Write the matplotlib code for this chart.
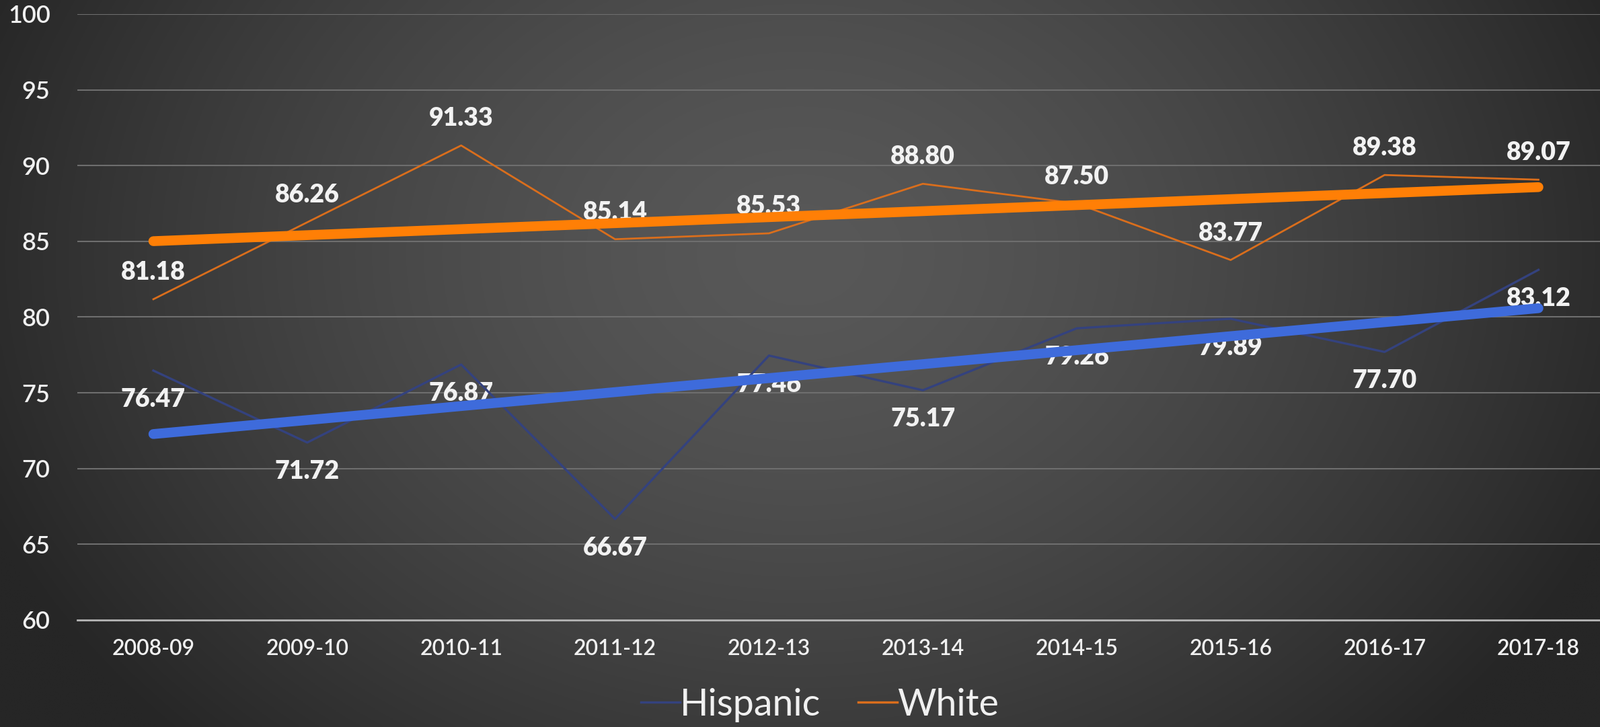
import matplotlib
matplotlib.use("Agg")
import matplotlib.pyplot as plt
import numpy as np

years = ["2008-09", "2009-10", "2010-11", "2011-12", "2012-13",
         "2013-14", "2014-15", "2015-16", "2016-17", "2017-18"]
hispanic = [76.47, 71.72, 76.87, 66.67, 77.46, 75.17, 79.26, 79.89, 77.70, 83.12]
white = [81.18, 86.26, 91.33, 85.14, 85.53, 88.80, 87.50, 83.77, 89.38, 89.07]
y_ticks = [60, 65, 70, 75, 80, 85, 90, 95, 100]

plt.rcParams['font.family'] = ['Lato', 'DejaVu Sans']

W, H = 2379, 1081
fig = plt.figure(figsize=(W / 100, H / 100), dpi=100)

# radial-ish dark gradient behind everything
bg = fig.add_axes([0, 0, 1, 1], zorder=-10)
gx, gy = np.meshgrid(np.linspace(0, 1, 600), np.linspace(0, 1, 280))
r = np.sqrt(((gx - 0.5) / 0.55) ** 2 + ((gy - 0.35) / 0.95) ** 2)
r = np.clip(r, 0, 1) ** 1.5
val = (88 - 50 * r) / 255.0
bg.imshow(np.dstack([val, val, val]), aspect='auto', extent=[0, 1, 1, 0], interpolation='bilinear')
bg.set_xlim(0, 1)
bg.set_ylim(1, 0)
bg.axis('off')

ax = fig.add_axes([115 / W, 1 - 922 / H, 1 - 115 / W, (922 - 21) / H])
ax.patch.set_alpha(0)

x = np.arange(len(years))

ax.plot(x, hispanic, color='#34427E', lw=2.4, zorder=3, label='Hispanic')
ax.plot(x, white, color='#DA6E1C', lw=2.0, zorder=3, label='White')

# linear trendlines
for vals, col in [(hispanic, '#3E6BDB'), (white, '#FF7F06')]:
    k, b = np.polyfit(x, vals, 1)
    ax.plot(x, k * x + b, color=col, lw=10.5, solid_capstyle='round', zorder=4)

for i, v in enumerate(hispanic):
    ax.annotate(f"{v:.2f}", (x[i], v), xytext=(0, -43), textcoords='offset pixels',
                ha='center', va='center', color='#F2F2F2', fontsize=27,
                fontweight='heavy', zorder=2)
for i, v in enumerate(white):
    ax.annotate(f"{v:.2f}", (x[i], v), xytext=(0, 40), textcoords='offset pixels',
                ha='center', va='center', color='#F2F2F2', fontsize=27,
                fontweight='heavy', zorder=2)

ax.set_xlim(-0.494, 9.40)
ax.set_ylim(60, 100)
ax.set_yticks(y_ticks)
ax.set_xticks(x)
ax.set_xticklabels(years)
ax.grid(axis='y', color='#6E6E6E', lw=1.5, zorder=0)
ax.set_axisbelow(True)
for s in ['top', 'right', 'left']:
    ax.spines[s].set_visible(False)
ax.spines['bottom'].set_color('#B4B4B4')
ax.spines['bottom'].set_linewidth(2)
ax.tick_params(axis='y', length=0, pad=29, labelsize=26, labelcolor='#F0F0F0')
ax.tick_params(axis='x', length=0, pad=20, labelsize=23, labelcolor='#F0F0F0')
for lab in ax.get_xticklabels() + ax.get_yticklabels():
    lab.set_fontweight('semibold')

leg = fig.legend(loc='center', bbox_to_anchor=(1219 / W, 1 - 1048 / H), ncol=2,
                 frameon=False, fontsize=40, handlelength=1.05, handletextpad=0.0,
                 columnspacing=1.0, labelcolor='#F0F0F0')
for line in leg.get_lines():
    line.set_linewidth(2.5)

fig.savefig("out.png", dpi=100)
